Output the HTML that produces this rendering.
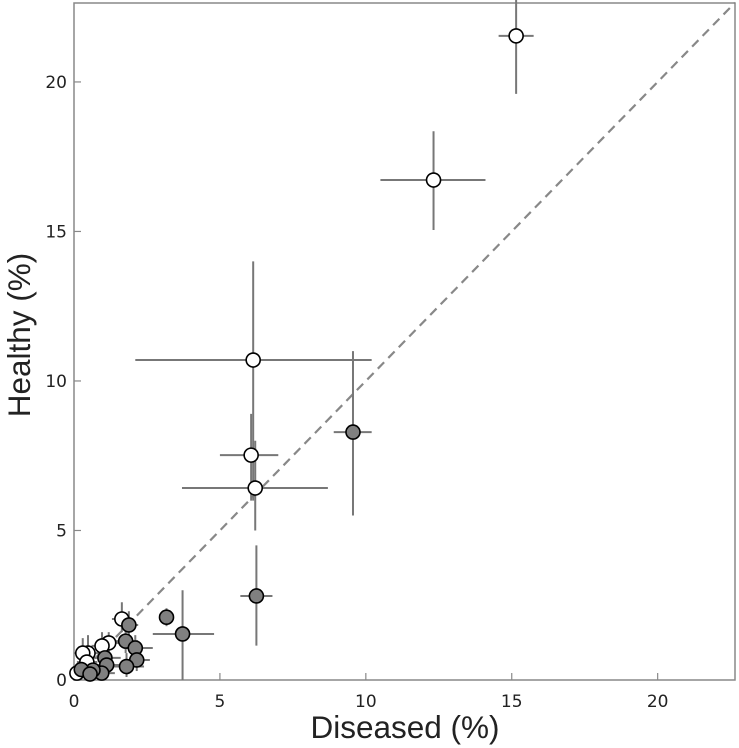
<!DOCTYPE html>
<html><head><meta charset="utf-8"><style>
html,body{margin:0;padding:0;background:#fff;}
svg{display:block;}
.tick{font-family:"DejaVu Sans","Liberation Sans",sans-serif;}
.title{font-family:"Liberation Sans",sans-serif;}
</style></head><body>
<svg id="chart" width="739" height="748"></svg>
<script>
const xVals=[15.15,12.32,6.14,6.07,6.21,9.56,6.25,3.17,3.72,1.64,1.88,1.77,2.10,2.15,1.80,1.19,0.96,0.48,0.30,0.44,1.06,1.12,0.95,0.65,0.10,0.25,0.55];
const yVals=[21.54,16.72,10.70,7.52,6.42,8.29,2.81,2.10,1.54,2.04,1.84,1.30,1.07,0.67,0.45,1.24,1.14,0.90,0.90,0.60,0.74,0.50,0.23,0.33,0.23,0.35,0.20];
const xLo=[14.55,10.50,2.10,5.00,3.70,8.90,5.70,3.05,2.70,1.30,1.50,1.40,1.70,1.80,1.30,0.80,0.60,0.10,0.00,0.10,0.60,0.70,0.50,0.30,0.00,0.00,0.20];
const xHi=[15.75,14.10,10.20,7.00,8.70,10.20,6.80,3.30,4.80,2.00,2.20,2.20,2.70,2.60,2.40,1.60,1.30,0.90,0.70,0.80,1.60,1.60,1.40,1.10,0.40,0.60,0.90];
const yLo=[19.60,15.05,6.00,6.00,5.00,5.50,1.15,1.80,0.00,1.60,1.40,0.90,0.70,0.30,0.10,0.80,0.80,0.40,0.40,0.20,0.30,0.10,0.00,0.00,0.00,0.00,0.00];
const yHi=[22.90,18.35,14.00,8.90,8.00,11.00,4.50,2.40,3.00,2.60,2.30,1.70,1.50,1.10,0.90,1.60,1.60,1.50,1.40,1.00,1.20,0.90,0.60,0.70,0.50,0.80,0.50];
const kind=['w','w','w','w','w','g','g','g','g','w','g','g','g','g','g','w','w','w','w','w','g','g','g','g','w','g','g'];
const xTicks=[0,5,10,15,20];
const yTicks=[0,5,10,15,20];
const NS='http://www.w3.org/2000/svg';
const svg=document.getElementById('chart');
const L=74,R=735,T=3,B=680,XMAX=22.65,YMAX=22.64;
const sx=v=>L+v/XMAX*(R-L);
const sy=v=>B-v/YMAX*(B-T);
function mk(tag,attrs,parent){const e=document.createElementNS(NS,tag);for(const k in attrs)e.setAttribute(k,attrs[k]);(parent||svg).appendChild(e);return e;}
const frame=mk('rect',{x:L,y:T,width:R-L,height:B-T,fill:'none',stroke:'#888','stroke-width':1.5});


xTicks.forEach(t=>{
  const ln=mk('line',{x1:sx(t),x2:sx(t),y1:B,y2:B-7,stroke:'#888','stroke-width':1.2});
  
  
  const tx=mk('text',{x:sx(t),y:B+27,'text-anchor':'middle','font-size':17,fill:'#222',class:'tick'});
  tx.textContent=t;
  
  
});
yTicks.forEach(t=>{
  const ln=mk('line',{x1:L,x2:L+7,y1:sy(t),y2:sy(t),stroke:'#888','stroke-width':1.2});
  
  
  const tx=mk('text',{x:L-7,y:sy(t)+6,'text-anchor':'end','font-size':17,fill:'#222',class:'tick'});
  tx.textContent=t;
  
  
});
const id=mk('line',{x1:sx(0),y1:sy(0),x2:sx(XMAX),y2:sy(XMAX),stroke:'#888','stroke-width':2.2,'stroke-dasharray':'9,6'});


const g=mk('g',{});
xVals.forEach((x,i)=>{
  const a=mk('line',{x1:sx(xLo[i]),x2:sx(xHi[i]),y1:sy(yVals[i]),y2:sy(yVals[i]),stroke:'#777','stroke-width':2},g);
  
  
  const b=mk('line',{x1:sx(x),x2:sx(x),y1:sy(yLo[i]),y2:sy(yHi[i]),stroke:'#777','stroke-width':2},g);
  
  
});
xVals.forEach((x,i)=>{
  const c=mk('circle',{cx:sx(x),cy:sy(yVals[i]),r:7,fill:kind[i]==='w'?'#fff':'#808080',stroke:'#000','stroke-width':1.6},g);
  
  
});
const xl=mk('text',{x:405,y:738,'text-anchor':'middle','font-size':31.5,fill:'#222',class:'title'});
xl.textContent='Diseased (%)';


const yl=mk('text',{x:0,y:0,'text-anchor':'middle','font-size':31.5,fill:'#222',class:'title',transform:'translate(30,335) rotate(-90)'});
yl.textContent='Healthy (%)';


</script>
</body></html>
